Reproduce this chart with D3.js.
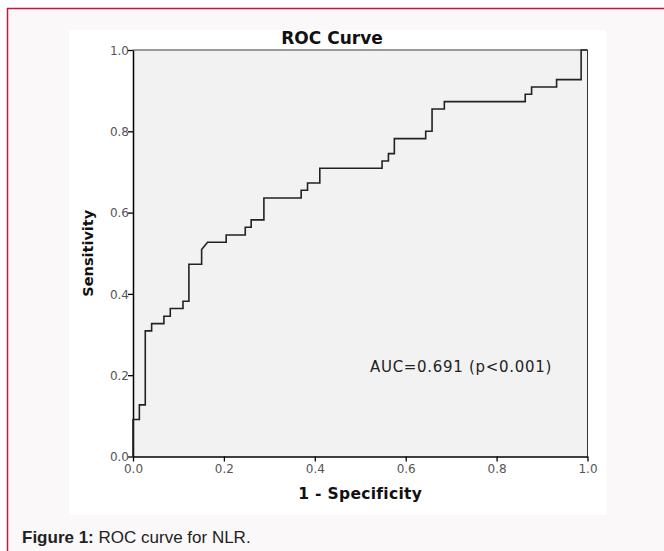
<!DOCTYPE html>
<html><head><meta charset="utf-8">
<script src="https://cdn.jsdelivr.net/npm/d3@7"></script>
<style>html,body{margin:0;padding:0;background:#fff;}svg{display:block;}</style>
</head><body>
<script>
// ROC coordinates (1 - specificity, sensitivity)
const fpr = [0,0,0.014,0.014,0.027,0.027,0.041,0.041,0.068,0.068,0.082,0.082,0.110,0.110,0.123,0.123,0.151,0.151,0.164,0.205,0.205,0.247,0.247,0.260,0.260,0.288,0.288,0.370,0.370,0.384,0.384,0.411,0.411,0.548,0.548,0.562,0.562,0.575,0.575,0.644,0.644,0.658,0.658,0.685,0.685,0.863,0.863,0.877,0.877,0.932,0.932,0.986,0.986,1.0];
const tpr = [0,0.091,0.091,0.127,0.127,0.309,0.309,0.327,0.327,0.345,0.345,0.364,0.364,0.382,0.382,0.473,0.473,0.509,0.527,0.527,0.545,0.545,0.564,0.564,0.582,0.582,0.636,0.636,0.655,0.655,0.673,0.673,0.709,0.709,0.727,0.727,0.745,0.745,0.782,0.782,0.800,0.800,0.855,0.855,0.873,0.873,0.891,0.891,0.909,0.909,0.927,0.927,1.0,1.0];
const xTicks = [0.0,0.2,0.4,0.6,0.8,1.0];
const yTicks = [0.0,0.2,0.4,0.6,0.8,1.0];
const titleText = "ROC Curve";
const xLabel = "1 - Specificity";
const yLabel = "Sensitivity";
const aucText = "AUC=0.691 (p<0.001)";
const captionBold = "Figure 1:";
const captionRest = " ROC curve for NLR.";

const W = 664, H = 551;
const svg = d3.select("body").append("svg").attr("width", W).attr("height", H);

// outer box
svg.append("rect").attr("x",7).attr("y",8).attr("width",W-7).attr("height",H-8).attr("fill","#faf8f9");
svg.append("line").attr("x1",7).attr("x2",W).attr("y1",8.5).attr("y2",8.5).attr("stroke","#c8153a").attr("stroke-width",1.5);
svg.append("line").attr("x1",7.5).attr("x2",7.5).attr("y1",8).attr("y2",H).attr("stroke","#c8153a").attr("stroke-width",1.5);

// white panel
svg.append("rect").attr("x",69).attr("y",30).attr("width",537).attr("height",485).attr("fill","#ffffff");

const x0 = 133, x1 = 587.5, y0 = 456.5, y1 = 50;
const x = d3.scaleLinear().domain([0,1]).range([x0,x1]);
const y = d3.scaleLinear().domain([0,1]).range([y0,y1]);

// plot background
svg.append("rect").attr("x",x0).attr("y",y1).attr("width",x1-x0).attr("height",y0-y1).attr("fill","#f2f2f2");
// top and right frame
svg.append("line").attr("x1",x0).attr("x2",x1).attr("y1",y1).attr("y2",y1).attr("stroke","#7a7a7a").attr("stroke-width",1.3);
svg.append("line").attr("x1",x1).attr("x2",x1).attr("y1",y1).attr("y2",y0).attr("stroke","#333").attr("stroke-width",1);

const fontTick = "'DejaVu Sans', Verdana, sans-serif";
// axes
const xAxis = d3.axisBottom(x).tickValues(xTicks).tickFormat(d3.format(".1f")).tickSize(5).tickSizeOuter(0);
const yAxis = d3.axisLeft(y).tickValues(yTicks).tickFormat(d3.format(".1f")).tickSize(5).tickSizeOuter(0);
const gx = svg.append("g").attr("transform",`translate(0,${y0})`).call(xAxis);
const gy = svg.append("g").attr("transform",`translate(${x0},0)`).call(yAxis);
[gx,gy].forEach(g=>{
  g.attr("font-size",null).attr("font-family",null);
  g.select(".domain").attr("stroke","#000").attr("stroke-width",1.5);
  g.selectAll(".tick line").attr("stroke","#000").attr("stroke-width",1.3);
  g.selectAll(".tick text").style("font-family",fontTick).style("font-size","12px").attr("fill","#555");
});
gx.selectAll(".tick text").attr("dy","0.9em").attr("y",6);
gy.selectAll(".tick text").attr("x",-4).attr("dy","0.35em");

// curve
const pts = fpr.map((f,i)=>[f,tpr[i]]);
const line = d3.line().x(d=>x(d[0])).y(d=>y(d[1]));
svg.append("path").datum(pts).attr("d",line).attr("fill","none").attr("stroke","#222").attr("stroke-width",1.6);

// texts
svg.append("text").attr("x",332).attr("y",44).attr("text-anchor","middle")
  .attr("font-family",fontTick).attr("font-weight","bold").attr("font-size",17).attr("fill","#111").text(titleText);
svg.append("text").attr("x",(x0+x1)/2).attr("y",499).attr("text-anchor","middle")
  .attr("font-family",fontTick).attr("font-weight","bold").attr("font-size",15.5).attr("letter-spacing",0.3).attr("fill","#111").text(xLabel);
svg.append("text").attr("transform",`translate(93,${(y0+y1)/2}) rotate(-90)`).attr("text-anchor","middle")
  .attr("font-family",fontTick).attr("font-weight","bold").attr("font-size",14.5).attr("fill","#111").text(yLabel);
svg.append("text").attr("x",370).attr("y",372)
  .attr("font-family",fontTick).attr("font-size",15).attr("letter-spacing",0.7).attr("fill","#222").text(aucText);

const cap = svg.append("text").attr("x",22).attr("y",543)
  .attr("font-family","'Liberation Sans Narrow', 'Arial Narrow', 'Liberation Sans', Arial, sans-serif").attr("font-size",17).attr("fill","#222");
cap.append("tspan").attr("font-weight","bold").text(captionBold);
cap.append("tspan").text(captionRest);
</script>
</body></html>
